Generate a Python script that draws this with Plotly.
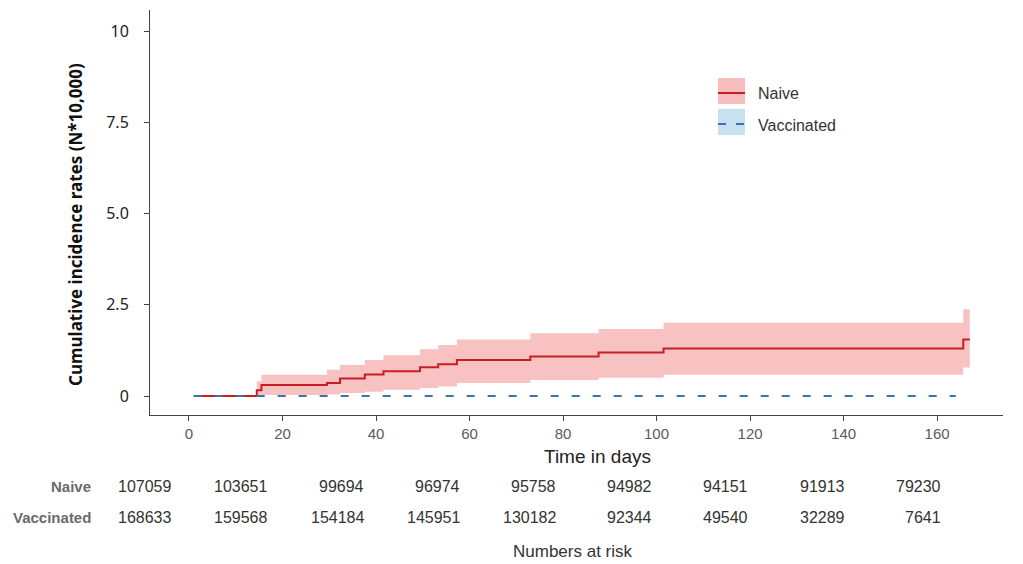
import plotly.graph_objects as go

# ---- data ----
naive_t = [1, 14.5, 15.5, 29.5, 32.3, 37.6, 41.6, 49.4, 53.3, 57.3, 73.0, 87.6, 101.5, 165.6, 167.0]
naive_est = [0, 0.16, 0.30, 0.36, 0.48, 0.59, 0.68, 0.79, 0.87, 0.99, 1.08, 1.19, 1.30, 1.55, 1.55]
naive_lo = [0, 0.00, 0.03, 0.04, 0.08, 0.12, 0.17, 0.22, 0.26, 0.36, 0.44, 0.50, 0.58, 0.78, 0.78]
naive_hi = [0, 0.40, 0.58, 0.72, 0.85, 0.99, 1.12, 1.28, 1.40, 1.55, 1.72, 1.84, 2.01, 2.38, 2.38]

vacc_t = [1, 164]
vacc_est = [0, 0]

risk_days = [0, 20, 40, 60, 80, 100, 120, 140, 160]
risk_naive = [107059, 103651, 99694, 96974, 95758, 94982, 94151, 91913, 79230]
risk_vacc = [168633, 159568, 154184, 145951, 130182, 92344, 49540, 32289, 7641]

y_ticks = [0, 2.5, 5.0, 7.5, 10]
y_ticklabels = ["0", "2.5", "5.0", "7.5", "10"]
x_ticks = [0, 20, 40, 60, 80, 100, 120, 140, 160]

RED = "rgb(200,30,35)"
PINK = "rgba(240,120,120,0.45)"
BLUE = "#3b74ac"

fig = go.Figure()
# ribbon (naive)
fig.add_trace(go.Scatter(x=naive_t, y=naive_lo, mode="lines", line=dict(width=0, shape="hv"),
                         hoverinfo="skip", showlegend=False))
fig.add_trace(go.Scatter(x=naive_t, y=naive_hi, mode="lines", line=dict(width=0, shape="hv"),
                         fill="tonexty", fillcolor=PINK, hoverinfo="skip", showlegend=False))
fig.add_trace(go.Scatter(x=naive_t, y=naive_est, mode="lines", name="Naive",
                         line=dict(color=RED, width=2, shape="hv"), showlegend=False))
fig.add_trace(go.Scatter(x=vacc_t, y=vacc_est, mode="lines", name="Vaccinated",
                         line=dict(color=BLUE, width=2, dash="8px,13px", shape="hv"), showlegend=False))

# invisible trace on table axis
fig.add_trace(go.Scatter(x=risk_days, y=[None]*len(risk_days), xaxis="x2", mode="markers",
                         showlegend=False, hoverinfo="skip"))

W, H = 1023, 564
L, R, T, B = 150, 20, 10, 149
pw, ph = W - L - R, H - T - B

def px(xp):
    return (xp - L) / pw

def py(yp):
    return (H - B - yp) / ph

# numbers at risk table
for d, n, v in zip(risk_days, risk_naive, risk_vacc):
    fig.add_annotation(x=d, xref="x2", y=py(486), yref="paper", text=str(n), showarrow=False,
                       xanchor="right", yanchor="middle",
                       font=dict(family="Liberation Sans, Arial", size=16, color="#333"))
    fig.add_annotation(x=d, xref="x2", y=py(517), yref="paper", text=str(v), showarrow=False,
                       xanchor="right", yanchor="middle",
                       font=dict(family="Liberation Sans, Arial", size=16, color="#333"))

for lbl, yp in [("Naive", 486), ("Vaccinated", 517)]:
    fig.add_annotation(x=px(93), xref="paper", y=py(yp), yref="paper", text="<b>" + lbl + "</b>",
                       showarrow=False, xanchor="right", yanchor="middle",
                       font=dict(family="Liberation Sans, Arial", size=15, color="#6a6a6a"))

fig.add_annotation(x=px(573), xref="paper", y=py(551), yref="paper", text="Numbers at risk",
                   showarrow=False, xanchor="center", yanchor="middle",
                   font=dict(family="Liberation Sans, Arial", size=17, color="#333"))
fig.add_annotation(x=px(597), xref="paper", y=py(457), yref="paper", text="Time in days",
                   showarrow=False, xanchor="center", yanchor="middle",
                   font=dict(family="Liberation Sans, Arial", size=19, color="#222"))
fig.add_annotation(x=px(75), xref="paper", y=py(225), yref="paper",
                   text="<b>Cumulative incidence rates (N*10,000)</b>", textangle=-90,
                   showarrow=False, xanchor="center", yanchor="middle",
                   font=dict(family="Noto Sans", size=17, color="#111"))

# manual legend
fig.add_shape(type="rect", xref="paper", yref="paper", x0=px(718), x1=px(745), y0=py(104), y1=py(78),
              fillcolor="rgb(247,190,190)", line=dict(width=0))
fig.add_shape(type="line", xref="paper", yref="paper", x0=px(718), x1=px(745), y0=py(93), y1=py(93),
              line=dict(color=RED, width=2))
fig.add_shape(type="rect", xref="paper", yref="paper", x0=px(718), x1=px(745), y0=py(135), y1=py(109),
              fillcolor="rgb(200,225,240)", line=dict(width=0))
fig.add_shape(type="line", xref="paper", yref="paper", x0=px(718), x1=px(745), y0=py(124), y1=py(124),
              line=dict(color=BLUE, width=2, dash="8px,10px"))
fig.add_annotation(x=px(756), xref="paper", y=py(94), yref="paper", text="Naive", showarrow=False,
                   xanchor="left", yanchor="middle",
                   font=dict(family="Liberation Sans, Arial", size=16, color="#333"))
fig.add_annotation(x=px(756), xref="paper", y=py(125), yref="paper", text="Vaccinated", showarrow=False,
                   xanchor="left", yanchor="middle",
                   font=dict(family="Liberation Sans, Arial", size=16, color="#333"))

fig.update_layout(
    width=W, height=H,
    margin=dict(l=L, r=R, t=T, b=B, pad=0),
    paper_bgcolor="white", plot_bgcolor="white",
    showlegend=False,
    xaxis=dict(range=[-8.34, 174.1], tickvals=x_ticks, showgrid=False, zeroline=False,
               showline=True, linecolor="#444", linewidth=1, ticks="outside", ticklen=5,
               tickcolor="#444", tickfont=dict(family="Liberation Sans, Arial", size=15, color="#5a5a5a")),
    xaxis2=dict(range=[-4.78, 172.47], overlaying="x", visible=False, showgrid=False),
    yaxis=dict(range=[-0.52, 10.58], tickvals=y_ticks, ticktext=y_ticklabels, showgrid=False,
               zeroline=False, showline=True, linecolor="#444", linewidth=1, ticks="outside",
               ticklen=5, tickcolor="#444", ticklabelstandoff=12,
               tickfont=dict(family="Noto Sans", size=16, color="#222")),
)

fig.write_html("out.html", config={"displayModeBar": False},
               post_script="document.body.style.margin='0';")
